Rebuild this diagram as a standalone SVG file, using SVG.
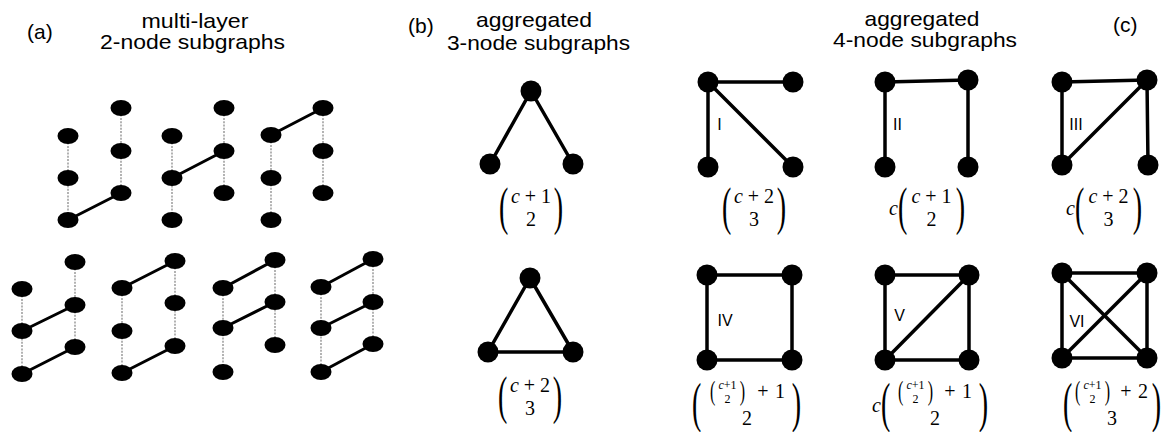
<svg xmlns="http://www.w3.org/2000/svg" width="1163" height="432" viewBox="0 0 1163 432">
<style>
.t{font-family:"Liberation Sans",Arial,sans-serif;font-size:21px;fill:#000}
.lab{font-family:"Liberation Sans",Arial,sans-serif;font-size:16px;fill:#000}
.m{font-family:"Liberation Serif","Times New Roman",serif;font-size:20px;fill:#000}
.s{font-size:12px}
.p{font-size:28px}
.ps{font-size:16px}
.i{font-style:italic}
.e{stroke:#000;stroke-width:3.5;stroke-linecap:round;fill:none}
.ea{stroke:#000;stroke-width:3;stroke-linecap:round;fill:none}
.d{stroke:#808080;stroke-width:1.2;stroke-dasharray:2 1.3;fill:none}
.nd{fill:#000}
</style>
<rect width="1163" height="432" fill="#fff"/>

<g id="titles">
<text class="t" x="27" y="39">(a)</text>
<text class="t" x="195" y="28" text-anchor="middle" textLength="107" lengthAdjust="spacingAndGlyphs">multi-layer</text>
<text class="t" x="192.5" y="49" text-anchor="middle" textLength="185" lengthAdjust="spacingAndGlyphs">2-node subgraphs</text>
<text class="t" x="408" y="33">(b)</text>
<text class="t" x="534" y="27" text-anchor="middle" textLength="116" lengthAdjust="spacingAndGlyphs">aggregated</text>
<text class="t" x="538.5" y="50" text-anchor="middle" textLength="183" lengthAdjust="spacingAndGlyphs">3-node subgraphs</text>
<text class="t" x="922" y="26" text-anchor="middle" textLength="115" lengthAdjust="spacingAndGlyphs">aggregated</text>
<text class="t" x="925" y="47" text-anchor="middle" textLength="184" lengthAdjust="spacingAndGlyphs">4-node subgraphs</text>
<text class="t" x="1113" y="32">(c)</text>
</g>

<g id="connectors">
<line class="d" x1="68" y1="136" x2="68" y2="220"/>
<line class="d" x1="121" y1="108" x2="121" y2="193"/>
<line class="d" x1="172" y1="136" x2="172" y2="220"/>
<line class="d" x1="224" y1="108" x2="224" y2="193"/>
<line class="d" x1="271" y1="135" x2="271" y2="220"/>
<line class="d" x1="323" y1="108" x2="323" y2="193"/>
<line class="d" x1="22" y1="289" x2="22" y2="374"/>
<line class="d" x1="75" y1="262" x2="75" y2="347"/>
<line class="d" x1="122" y1="288" x2="122" y2="373"/>
<line class="d" x1="175" y1="261" x2="175" y2="346"/>
<line class="d" x1="223" y1="288" x2="223" y2="372"/>
<line class="d" x1="275" y1="260" x2="275" y2="345"/>
<line class="d" x1="321" y1="287" x2="321" y2="372"/>
<line class="d" x1="373" y1="259" x2="373" y2="344"/>
<line class="ea" x1="68" y1="220" x2="121" y2="193"/>
<line class="ea" x1="172" y1="178" x2="224" y2="151"/>
<line class="ea" x1="271" y1="135" x2="323" y2="108"/>
<line class="ea" x1="22" y1="331" x2="75" y2="305"/>
<line class="ea" x1="22" y1="374" x2="75" y2="347"/>
<line class="ea" x1="122" y1="288" x2="175" y2="261"/>
<line class="ea" x1="122" y1="373" x2="175" y2="346"/>
<line class="ea" x1="223" y1="288" x2="275" y2="260"/>
<line class="ea" x1="223" y1="328" x2="275" y2="302"/>
<line class="ea" x1="321" y1="287" x2="373" y2="259"/>
<line class="ea" x1="321" y1="328" x2="373" y2="302"/>
<line class="ea" x1="321" y1="372" x2="373" y2="344"/>
<line class="e" x1="531" y1="91" x2="490" y2="164"/>
<line class="e" x1="531" y1="91" x2="573" y2="164"/>
<line class="e" x1="530" y1="278" x2="488" y2="352"/>
<line class="e" x1="530" y1="278" x2="573" y2="352"/>
<line class="e" x1="488" y1="352" x2="573" y2="352"/>
<line class="e" x1="708" y1="82" x2="793" y2="82"/>
<line class="e" x1="708" y1="82" x2="708" y2="167"/>
<line class="e" x1="708" y1="82" x2="793" y2="167"/>
<line class="e" x1="885" y1="82" x2="968" y2="80"/>
<line class="e" x1="885" y1="82" x2="885" y2="167"/>
<line class="e" x1="968" y1="80" x2="968" y2="167"/>
<line class="e" x1="1062" y1="82" x2="1147" y2="80"/>
<line class="e" x1="1062" y1="82" x2="1062" y2="165"/>
<line class="e" x1="1062" y1="165" x2="1147" y2="80"/>
<line class="e" x1="1147" y1="80" x2="1148" y2="165"/>
<line class="e" x1="707" y1="275" x2="792" y2="275"/>
<line class="e" x1="792" y1="275" x2="792" y2="360"/>
<line class="e" x1="792" y1="360" x2="707" y2="360"/>
<line class="e" x1="707" y1="360" x2="707" y2="275"/>
<line class="e" x1="885" y1="275" x2="969" y2="275"/>
<line class="e" x1="969" y1="275" x2="969" y2="360"/>
<line class="e" x1="969" y1="360" x2="885" y2="360"/>
<line class="e" x1="885" y1="360" x2="885" y2="275"/>
<line class="e" x1="885" y1="360" x2="969" y2="275"/>
<line class="e" x1="1062" y1="273" x2="1147" y2="273"/>
<line class="e" x1="1147" y1="273" x2="1147" y2="358"/>
<line class="e" x1="1147" y1="358" x2="1062" y2="358"/>
<line class="e" x1="1062" y1="358" x2="1062" y2="273"/>
<line class="e" x1="1062" y1="273" x2="1147" y2="358"/>
<line class="e" x1="1062" y1="358" x2="1147" y2="273"/>
</g>

<g id="nodes-a">
<g id="a1-l1"><ellipse class="nd" cx="68" cy="136" rx="10.5" ry="8"/></g>
<g id="a1-l2"><ellipse class="nd" cx="68" cy="178" rx="10.5" ry="8"/></g>
<g id="a1-l3"><ellipse class="nd" cx="68" cy="220" rx="10.5" ry="8"/></g>
<g id="a1-r1"><ellipse class="nd" cx="121" cy="108" rx="10.5" ry="8"/></g>
<g id="a1-r2"><ellipse class="nd" cx="121" cy="151" rx="10.5" ry="8"/></g>
<g id="a1-r3"><ellipse class="nd" cx="121" cy="193" rx="10.5" ry="8"/></g>
<g id="a2-l1"><ellipse class="nd" cx="172" cy="136" rx="10.5" ry="8"/></g>
<g id="a2-l2"><ellipse class="nd" cx="172" cy="178" rx="10.5" ry="8"/></g>
<g id="a2-l3"><ellipse class="nd" cx="172" cy="220" rx="10.5" ry="8"/></g>
<g id="a2-r1"><ellipse class="nd" cx="224" cy="108" rx="10.5" ry="8"/></g>
<g id="a2-r2"><ellipse class="nd" cx="224" cy="151" rx="10.5" ry="8"/></g>
<g id="a2-r3"><ellipse class="nd" cx="224" cy="193" rx="10.5" ry="8"/></g>
<g id="a3-l1"><ellipse class="nd" cx="271" cy="135" rx="10.5" ry="8"/></g>
<g id="a3-l2"><ellipse class="nd" cx="271" cy="178" rx="10.5" ry="8"/></g>
<g id="a3-l3"><ellipse class="nd" cx="271" cy="220" rx="10.5" ry="8"/></g>
<g id="a3-r1"><ellipse class="nd" cx="323" cy="108" rx="10.5" ry="8"/></g>
<g id="a3-r2"><ellipse class="nd" cx="323" cy="151" rx="10.5" ry="8"/></g>
<g id="a3-r3"><ellipse class="nd" cx="323" cy="193" rx="10.5" ry="8"/></g>
<g id="a4-l1"><ellipse class="nd" cx="22" cy="289" rx="10.5" ry="8"/></g>
<g id="a4-l2"><ellipse class="nd" cx="22" cy="331" rx="10.5" ry="8"/></g>
<g id="a4-l3"><ellipse class="nd" cx="22" cy="374" rx="10.5" ry="8"/></g>
<g id="a4-r1"><ellipse class="nd" cx="75" cy="262" rx="10.5" ry="8"/></g>
<g id="a4-r2"><ellipse class="nd" cx="75" cy="305" rx="10.5" ry="8"/></g>
<g id="a4-r3"><ellipse class="nd" cx="75" cy="347" rx="10.5" ry="8"/></g>
<g id="a5-l1"><ellipse class="nd" cx="122" cy="288" rx="10.5" ry="8"/></g>
<g id="a5-l2"><ellipse class="nd" cx="122" cy="331" rx="10.5" ry="8"/></g>
<g id="a5-l3"><ellipse class="nd" cx="122" cy="373" rx="10.5" ry="8"/></g>
<g id="a5-r1"><ellipse class="nd" cx="175" cy="261" rx="10.5" ry="8"/></g>
<g id="a5-r2"><ellipse class="nd" cx="175" cy="303" rx="10.5" ry="8"/></g>
<g id="a5-r3"><ellipse class="nd" cx="175" cy="346" rx="10.5" ry="8"/></g>
<g id="a6-l1"><ellipse class="nd" cx="223" cy="288" rx="10.5" ry="8"/></g>
<g id="a6-l2"><ellipse class="nd" cx="223" cy="328" rx="10.5" ry="8"/></g>
<g id="a6-l3"><ellipse class="nd" cx="223" cy="372" rx="10.5" ry="8"/></g>
<g id="a6-r1"><ellipse class="nd" cx="275" cy="260" rx="10.5" ry="8"/></g>
<g id="a6-r2"><ellipse class="nd" cx="275" cy="302" rx="10.5" ry="8"/></g>
<g id="a6-r3"><ellipse class="nd" cx="275" cy="345" rx="10.5" ry="8"/></g>
<g id="a7-l1"><ellipse class="nd" cx="321" cy="287" rx="10.5" ry="8"/></g>
<g id="a7-l2"><ellipse class="nd" cx="321" cy="328" rx="10.5" ry="8"/></g>
<g id="a7-l3"><ellipse class="nd" cx="321" cy="372" rx="10.5" ry="8"/></g>
<g id="a7-r1"><ellipse class="nd" cx="373" cy="259" rx="10.5" ry="8"/></g>
<g id="a7-r2"><ellipse class="nd" cx="373" cy="302" rx="10.5" ry="8"/></g>
<g id="a7-r3"><ellipse class="nd" cx="373" cy="344" rx="10.5" ry="8"/></g>
</g>

<g id="nodes-b">
<g id="b1-top"><circle class="nd" cx="531" cy="91" r="10.5"/></g>
<g id="b1-left"><circle class="nd" cx="490" cy="164" r="10.5"/></g>
<g id="b1-right"><circle class="nd" cx="573" cy="164" r="10.5"/></g>
<g id="b2-top"><circle class="nd" cx="530" cy="278" r="10.5"/></g>
<g id="b2-left"><circle class="nd" cx="488" cy="352" r="10.5"/></g>
<g id="b2-right"><circle class="nd" cx="573" cy="352" r="10.5"/></g>
</g>

<g id="nodes-c">
<g id="c1-tl"><circle class="nd" cx="708" cy="82" r="10.5"/></g>
<g id="c1-tr"><circle class="nd" cx="793" cy="82" r="10.5"/></g>
<g id="c1-bl"><circle class="nd" cx="708" cy="167" r="10.5"/></g>
<g id="c1-br"><circle class="nd" cx="793" cy="167" r="10.5"/></g>
<g id="c2-tl"><circle class="nd" cx="885" cy="82" r="10.5"/></g>
<g id="c2-tr"><circle class="nd" cx="968" cy="80" r="10.5"/></g>
<g id="c2-bl"><circle class="nd" cx="885" cy="167" r="10.5"/></g>
<g id="c2-br"><circle class="nd" cx="968" cy="167" r="10.5"/></g>
<g id="c3-tl"><circle class="nd" cx="1062" cy="82" r="10.5"/></g>
<g id="c3-tr"><circle class="nd" cx="1147" cy="80" r="10.5"/></g>
<g id="c3-bl"><circle class="nd" cx="1062" cy="165" r="10.5"/></g>
<g id="c3-br"><circle class="nd" cx="1148" cy="165" r="10.5"/></g>
<g id="c4-tl"><circle class="nd" cx="707" cy="275" r="10.5"/></g>
<g id="c4-tr"><circle class="nd" cx="792" cy="275" r="10.5"/></g>
<g id="c4-bl"><circle class="nd" cx="707" cy="360" r="10.5"/></g>
<g id="c4-br"><circle class="nd" cx="792" cy="360" r="10.5"/></g>
<g id="c5-tl"><circle class="nd" cx="885" cy="275" r="10.5"/></g>
<g id="c5-tr"><circle class="nd" cx="969" cy="275" r="10.5"/></g>
<g id="c5-bl"><circle class="nd" cx="885" cy="360" r="10.5"/></g>
<g id="c5-br"><circle class="nd" cx="969" cy="360" r="10.5"/></g>
<g id="c6-tl"><circle class="nd" cx="1062" cy="273" r="10.5"/></g>
<g id="c6-tr"><circle class="nd" cx="1147" cy="273" r="10.5"/></g>
<g id="c6-bl"><circle class="nd" cx="1062" cy="358" r="10.5"/></g>
<g id="c6-br"><circle class="nd" cx="1147" cy="358" r="10.5"/></g>
</g>

<g id="labels">
<text class="lab" x="719.5" y="130" text-anchor="middle">I</text>
<text class="lab" x="897.5" y="130" text-anchor="middle">II</text>
<text class="lab" x="1076" y="130" text-anchor="middle">III</text>
<text class="lab" x="725" y="326" text-anchor="middle">IV</text>
<text class="lab" x="899.5" y="321" text-anchor="middle">V</text>
<text class="lab" x="1077" y="327" text-anchor="middle">VI</text>
</g>

<g id="formulas">
<!-- (b) 1 -->
<text class="m p" transform="translate(499,223.6) scale(1,1.88)">(</text>
<text class="m p" text-anchor="end" transform="translate(563,223.6) scale(1,1.88)">)</text>
<text class="m" x="531" y="203" text-anchor="middle"><tspan class="i">c</tspan> + 1</text>
<text class="m" x="531" y="226" text-anchor="middle">2</text>
<!-- (b) 2 -->
<text class="m p" transform="translate(498,412.6) scale(1,1.88)">(</text>
<text class="m p" text-anchor="end" transform="translate(562,412.6) scale(1,1.88)">)</text>
<text class="m" x="530" y="392" text-anchor="middle"><tspan class="i">c</tspan> + 2</text>
<text class="m" x="530" y="415" text-anchor="middle">3</text>
<!-- I -->
<text class="m p" transform="translate(722,223.6) scale(1,1.88)">(</text>
<text class="m p" text-anchor="end" transform="translate(786,223.6) scale(1,1.88)">)</text>
<text class="m" x="754" y="203" text-anchor="middle"><tspan class="i">c</tspan> + 2</text>
<text class="m" x="754" y="226" text-anchor="middle">3</text>
<!-- II -->
<text class="m i" x="898" y="215" text-anchor="end">c</text>
<text class="m p" transform="translate(898,223.6) scale(1,1.88)">(</text>
<text class="m p" text-anchor="end" transform="translate(965,223.6) scale(1,1.88)">)</text>
<text class="m" x="931.5" y="203" text-anchor="middle"><tspan class="i">c</tspan> + 1</text>
<text class="m" x="931.5" y="226" text-anchor="middle">2</text>
<!-- III -->
<text class="m i" x="1075" y="215" text-anchor="end">c</text>
<text class="m p" transform="translate(1075,223.6) scale(1,1.88)">(</text>
<text class="m p" text-anchor="end" transform="translate(1142,223.6) scale(1,1.88)">)</text>
<text class="m" x="1108.5" y="203" text-anchor="middle"><tspan class="i">c</tspan> + 2</text>
<text class="m" x="1108.5" y="226" text-anchor="middle">3</text>
<!-- IV -->
<text class="m p" transform="translate(692,421.3) scale(1,1.97)">(</text>
<text class="m p" text-anchor="end" transform="translate(801,421.3) scale(1,1.97)">)</text>
<text class="m ps" transform="translate(710,400.3) scale(1,1.69)">(</text>
<text class="m ps" text-anchor="end" transform="translate(745,400.3) scale(1,1.69)">)</text>
<text class="m s" x="727.5" y="389" text-anchor="middle"><tspan class="i">c</tspan>+1</text>
<text class="m s" x="727.5" y="403" text-anchor="middle">2</text>
<text class="m" x="763" y="398" text-anchor="middle">+</text>
<text class="m" x="780" y="398" text-anchor="middle">1</text>
<text class="m" x="747" y="425" text-anchor="middle">2</text>
<!-- V -->
<text class="m i" x="881" y="412" text-anchor="end">c</text>
<text class="m p" transform="translate(881,421.3) scale(1,1.97)">(</text>
<text class="m p" text-anchor="end" transform="translate(988,421.3) scale(1,1.97)">)</text>
<text class="m ps" transform="translate(898,400.3) scale(1,1.69)">(</text>
<text class="m ps" text-anchor="end" transform="translate(933,400.3) scale(1,1.69)">)</text>
<text class="m s" x="915.5" y="389" text-anchor="middle"><tspan class="i">c</tspan>+1</text>
<text class="m s" x="915.5" y="403" text-anchor="middle">2</text>
<text class="m" x="950" y="398" text-anchor="middle">+</text>
<text class="m" x="967" y="398" text-anchor="middle">1</text>
<text class="m" x="935" y="425" text-anchor="middle">2</text>
<!-- VI -->
<text class="m p" transform="translate(1063,421.3) scale(1,1.97)">(</text>
<text class="m p" text-anchor="end" transform="translate(1161,421.3) scale(1,1.97)">)</text>
<text class="m ps" transform="translate(1075,400.3) scale(1,1.69)">(</text>
<text class="m ps" text-anchor="end" transform="translate(1110,400.3) scale(1,1.69)">)</text>
<text class="m s" x="1092.5" y="389" text-anchor="middle"><tspan class="i">c</tspan>+1</text>
<text class="m s" x="1092.5" y="403" text-anchor="middle">2</text>
<text class="m" x="1126" y="398" text-anchor="middle">+</text>
<text class="m" x="1143" y="398" text-anchor="middle">2</text>
<text class="m" x="1112" y="425" text-anchor="middle">3</text>
</g>
</svg>
